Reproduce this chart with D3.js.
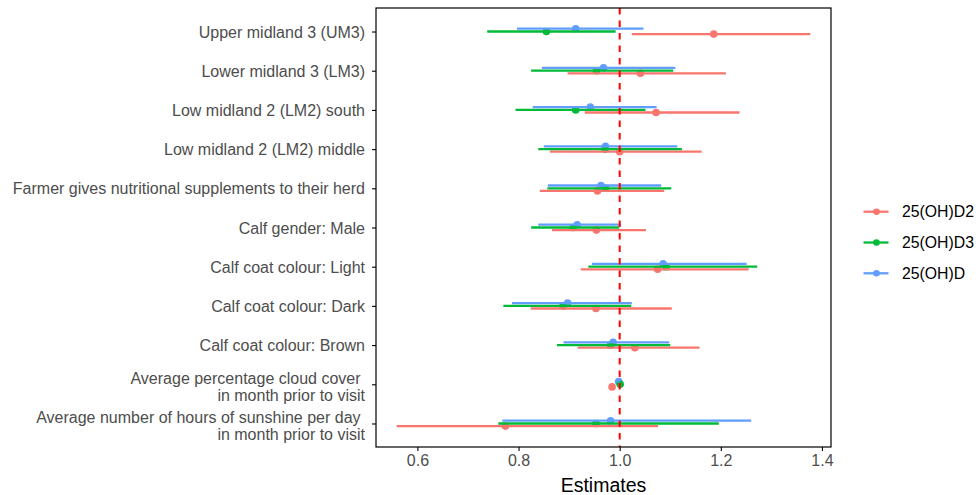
<!DOCTYPE html>
<html>
<head>
<meta charset="utf-8">
<script src="https://cdn.jsdelivr.net/npm/d3@7"></script>
<style>
  html, body { margin: 0; padding: 0; background: #fff; }
  text { font-family: "Liberation Sans", Arial, sans-serif; }
</style>
</head>
<body>
<svg id="chart" width="980" height="495"></svg>
<script>
// ---- data ----
const categories = [
  "Upper midland 3 (UM3)",
  "Lower midland 3 (LM3)",
  "Low midland 2 (LM2) south",
  "Low midland 2 (LM2) middle",
  "Farmer gives nutritional supplements to their herd",
  "Calf gender: Male",
  "Calf coat colour: Light",
  "Calf coat colour: Dark",
  "Calf coat colour: Brown",
  "Average percentage cloud cover \nin month prior to visit",
  "Average number of hours of sunshine per day \nin month prior to visit"
];
const seriesNames = ["25(OH)D2", "25(OH)D3", "25(OH)D"];
const seriesColors = ["#F8766D", "#00BA38", "#619CFF"];

const d2Est = [1.186, 1.041, 1.072, 1.000, 0.956, 0.954, 1.075, 0.953, 1.030, 0.985, 0.774];
const d2Lo  = [1.024, 0.897, 0.931, 0.862, 0.842, 0.866, 0.923, 0.824, 0.917, 0.983, 0.559];
const d2Hi  = [1.377, 1.210, 1.237, 1.162, 1.088, 1.052, 1.255, 1.103, 1.158, 0.987, 1.076];

const d3Est = [0.855, 0.954, 0.913, 0.971, 0.972, 0.908, 1.092, 0.888, 0.982, 1.001, 0.953];
const d3Lo  = [0.738, 0.825, 0.794, 0.839, 0.857, 0.825, 0.938, 0.770, 0.876, 0.999, 0.760];
const d3Hi  = [0.992, 1.106, 1.051, 1.123, 1.102, 0.999, 1.272, 1.023, 1.100, 1.003, 1.196];

const dEst  = [0.913, 0.968, 0.942, 0.972, 0.963, 0.916, 1.086, 0.897, 0.987, 0.998, 0.982];
const dLo   = [0.797, 0.846, 0.828, 0.850, 0.858, 0.839, 0.945, 0.787, 0.889, 0.996, 0.768];
const dHi   = [1.047, 1.110, 1.073, 1.114, 1.082, 1.003, 1.251, 1.024, 1.098, 1.000, 1.260];

const xTicks = [0.6, 0.8, 1.0, 1.2, 1.4];
const refValue = 1.0;

const series = [
  { name: seriesNames[0], color: seriesColors[0], est: d2Est, lo: d2Lo, hi: d2Hi, off: 2.6 },
  { name: seriesNames[1], color: seriesColors[1], est: d3Est, lo: d3Lo, hi: d3Hi, off: 0 },
  { name: seriesNames[2], color: seriesColors[2], est: dEst,  lo: dLo,  hi: dHi,  off: -2.8 }
];

// ---- layout ----
const svg = d3.select("#chart");
const P = { left: 376, right: 831, top: 8, bottom: 447 };
const FONT = "Liberation Sans, Arial, sans-serif";

const allLo = d3.min(series, s => d3.min(s.lo));
const allHi = d3.max(series, s => d3.max(s.hi));
const pad = (allHi - allLo) * 0.05;
const x = d3.scaleLinear().domain([allLo - pad, allHi + pad]).range([P.left, P.right]);
const y = d3.scalePoint().domain(categories).range([P.top, P.bottom]).padding(0.6);

// points first
const order = [0, 2, 1];
const gPts = svg.append("g");
order.forEach(i => {
  const s = series[i];
  gPts.selectAll(null).data(categories).enter().append("circle")
    .attr("cx", (c, k) => x(s.est[k]))
    .attr("cy", c => y(c) + s.off)
    .attr("r", 3.8)
    .attr("fill", s.color);
});
// interval lines
const gLines = svg.append("g");
order.forEach(i => {
  const s = series[i];
  gLines.selectAll(null).data(categories).enter().append("line")
    .attr("x1", (c, k) => x(s.lo[k]))
    .attr("x2", (c, k) => x(s.hi[k]))
    .attr("y1", c => y(c) + s.off)
    .attr("y2", c => y(c) + s.off)
    .attr("stroke", s.color)
    .attr("stroke-width", 2.3);
});

// reference line
svg.append("line")
  .attr("x1", x(refValue)).attr("x2", x(refValue))
  .attr("y1", P.top).attr("y2", P.bottom)
  .attr("stroke", "#FF0000").attr("stroke-width", 2)
  .attr("stroke-dasharray", "6.5,6");

// panel border
svg.append("rect")
  .attr("x", P.left).attr("y", P.top)
  .attr("width", P.right - P.left).attr("height", P.bottom - P.top)
  .attr("fill", "none").attr("stroke", "#000").attr("stroke-width", 1.2);

// x axis
const xAxis = svg.append("g")
  .attr("transform", `translate(0,${P.bottom})`)
  .call(d3.axisBottom(x).tickValues(xTicks).tickFormat(d3.format(".1f")).tickSizeOuter(0).tickSize(4).tickPadding(4));
xAxis.select(".domain").remove();
xAxis.selectAll(".tick line").attr("stroke", "#000").attr("stroke-width", 1.1);
xAxis.selectAll(".tick text").attr("fill", "#4D4D4D").attr("font-size", 16)
  .attr("font-family", FONT);

// y axis
const yAxis = svg.append("g")
  .attr("transform", `translate(${P.left},0)`)
  .call(d3.axisLeft(y).tickSize(4).tickSizeOuter(0).tickFormat(""));
yAxis.select(".domain").remove();
yAxis.selectAll(".tick line").attr("stroke", "#000").attr("stroke-width", 1.1);

yAxis.selectAll(".tick").each(function(c) {
  const lines = c.split("\n");
  const t = d3.select(this).append("text")
    .attr("x", -11)
    .attr("fill", "#4D4D4D")
    .attr("font-size", 16)
    .attr("text-anchor", "end")
    .style("white-space", "pre")
    .attr("font-family", FONT);
  if (lines.length === 1) {
    t.attr("dy", "0.35em").text(lines[0]);
  } else {
    t.append("tspan").attr("x", -11).attr("y", -6.5).attr("dy", "0.35em").text(lines[0]);
    t.append("tspan").attr("x", -11).attr("y", 10.8).attr("dy", "0.35em").text(lines[1]);
  }
});

// x title
svg.append("text")
  .attr("x", (P.left + P.right) / 2).attr("y", 492)
  .attr("text-anchor", "middle").attr("font-size", 19.5).attr("fill", "#000")
  .attr("font-family", FONT)
  .text("Estimates");

// legend
const lg = svg.append("g");
series.forEach((s, i) => {
  const yy = 211.7 + i * 30.8;
  lg.append("line").attr("x1", 863.5).attr("x2", 888.5).attr("y1", yy).attr("y2", yy)
    .attr("stroke", s.color).attr("stroke-width", 2.3);
  lg.append("circle").attr("cx", 876.5).attr("cy", yy).attr("r", 3.3).attr("fill", s.color);
  lg.append("text").attr("x", 902).attr("y", yy).attr("dy", "0.35em")
    .attr("font-size", 15.8).attr("fill", "#000").attr("font-family", FONT).text(s.name);
});
</script>
</body>
</html>
